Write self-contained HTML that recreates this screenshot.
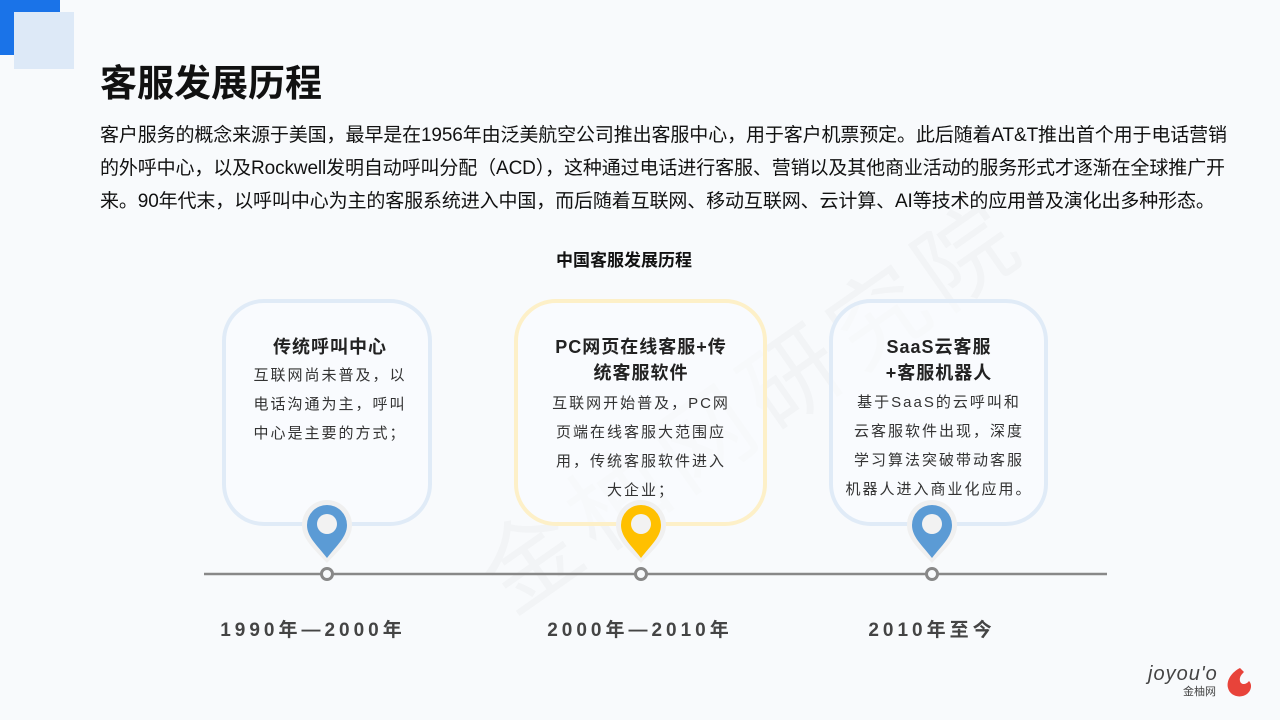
<!DOCTYPE html>
<html><head><meta charset="utf-8"><style>
body{margin:0;width:1280px;height:720px;background:#f8fafc;position:relative;overflow:hidden;font-family:"Liberation Sans","Noto Sans CJK SC",sans-serif;color:#111}
.a{position:absolute}
.card{position:absolute;border:4px solid #e0ebf7;border-radius:42px;box-sizing:border-box;background:rgba(250,252,255,0.6)}
.t{position:absolute;text-align:center;white-space:nowrap}
.ti{font-size:18px;font-weight:bold;color:#222;line-height:26px;letter-spacing:1px}
.bd{font-size:15px;color:#333;line-height:29px;letter-spacing:2px}
.dt{font-size:19px;font-weight:bold;color:#444;letter-spacing:4px}
</style></head><body>
<div class="a" style="left:0;top:0;width:60px;height:55px;background:#1a73e8"></div>
<div class="a" style="left:14px;top:12px;width:60px;height:57px;background:#dde9f7"></div>
<div class="a" style="left:100px;top:61px;font-size:37px;font-weight:bold;line-height:46px">客服发展历程</div>
<div class="a" style="left:100px;top:119px;font-size:19px;line-height:33px;white-space:nowrap;color:#111;letter-spacing:-0.12px">客户服务的概念来源于美国，最早是在1956年由泛美航空公司推出客服中心，用于客户机票预定。此后随着AT&amp;T推出首个用于电话营销<br>的外呼中心，以及Rockwell发明自动呼叫分配（ACD），这种通过电话进行客服、营销以及其他商业活动的服务形式才逐渐在全球推广开<br>来。90年代末，以呼叫中心为主的客服系统进入中国，而后随着互联网、移动互联网、云计算、AI等技术的应用普及演化出多种形态。</div>
<div class="a" style="left:430px;top:330px;font-size:96px;color:rgba(0,0,0,0.025);transform:rotate(-35deg);white-space:nowrap;letter-spacing:10px">金柚网研究院</div>
<div class="t" style="left:524px;top:246px;width:200px;font-size:17px;font-weight:bold">中国客服发展历程</div>

<div class="card" style="left:222px;top:299px;width:210px;height:227px"></div>
<div class="card" style="left:514px;top:299px;width:253px;height:227px;border-color:#fdf0c8"></div>
<div class="card" style="left:829px;top:299px;width:219px;height:227px"></div>

<div class="t ti" style="left:227px;top:334px;width:206px">传统呼叫中心</div>
<div class="t bd" style="left:227px;top:361px;width:206px">互联网尚未普及，以<br>电话沟通为主，呼叫<br>中心是主要的方式；</div>

<div class="t ti" style="left:516px;top:334px;width:250px">PC网页在线客服+传<br>统客服软件</div>
<div class="t bd" style="left:516px;top:389px;width:250px">互联网开始普及，PC网<br>页端在线客服大范围应<br>用，传统客服软件进入<br>大企业；</div>

<div class="t ti" style="left:831px;top:334px;width:216px">SaaS云客服<br>+客服机器人</div>
<div class="t bd" style="left:831px;top:388px;width:216px">基于SaaS的云呼叫和<br>云客服软件出现，深度<br>学习算法突破带动客服<br>机器人进入商业化应用。</div>

<svg class="a" style="left:0;top:0" width="1280" height="720">
<line x1="204" y1="574" x2="1107" y2="574" stroke="#888" stroke-width="2.5"/>
<g transform="translate(327,0)">
<path d="M0,500 a25,25 0 0 1 25,25 c0,14 -12,24 -25,38 c-13,-14 -25,-24 -25,-38 a25,25 0 0 1 25,-25z" fill="#f0f0f0"/>
<path d="M0,505 a20,20 0 0 1 20,20 c0,12 -10,20 -20,33 c-10,-13 -20,-21 -20,-33 a20,20 0 0 1 20,-20z" fill="#5b9bd5"/>
<circle cx="0" cy="524" r="10" fill="#f2f2f2"/>
<circle cx="0" cy="574" r="5.5" fill="#f8fafc" stroke="#888" stroke-width="3"/>
</g>
<g transform="translate(641,0)">
<path d="M0,500 a25,25 0 0 1 25,25 c0,14 -12,24 -25,38 c-13,-14 -25,-24 -25,-38 a25,25 0 0 1 25,-25z" fill="#f0f0f0"/>
<path d="M0,505 a20,20 0 0 1 20,20 c0,12 -10,20 -20,33 c-10,-13 -20,-21 -20,-33 a20,20 0 0 1 20,-20z" fill="#ffc000"/>
<circle cx="0" cy="524" r="10" fill="#f2f2f2"/>
<circle cx="0" cy="574" r="5.5" fill="#f8fafc" stroke="#888" stroke-width="3"/>
</g>
<g transform="translate(932,0)">
<path d="M0,500 a25,25 0 0 1 25,25 c0,14 -12,24 -25,38 c-13,-14 -25,-24 -25,-38 a25,25 0 0 1 25,-25z" fill="#f0f0f0"/>
<path d="M0,505 a20,20 0 0 1 20,20 c0,12 -10,20 -20,33 c-10,-13 -20,-21 -20,-33 a20,20 0 0 1 20,-20z" fill="#5b9bd5"/>
<circle cx="0" cy="524" r="10" fill="#f2f2f2"/>
<circle cx="0" cy="574" r="5.5" fill="#f8fafc" stroke="#888" stroke-width="3"/>
</g>
<path d="M1240,668 c-8,4 -14,12 -12,20 c2,8 12,11 19,6 c5,-4 5,-10 2,-13 c-3,4 -8,4 -9,0 c-1,-4 2,-7 4,-9z" fill="#e8433a"/>
</svg>

<div class="t dt" style="left:163px;top:615px;width:300px">1990年—2000年</div>
<div class="t dt" style="left:490px;top:615px;width:300px">2000年—2010年</div>
<div class="t dt" style="left:782px;top:615px;width:300px">2010年至今</div>

<div class="a" style="left:1148px;top:664px;font-size:20px;font-style:italic;color:#444;letter-spacing:1px;line-height:20px">joyou'o</div>
<div class="a" style="left:1183px;top:686px;font-size:11px;color:#444;line-height:12px">金柚网</div>
</body></html>
